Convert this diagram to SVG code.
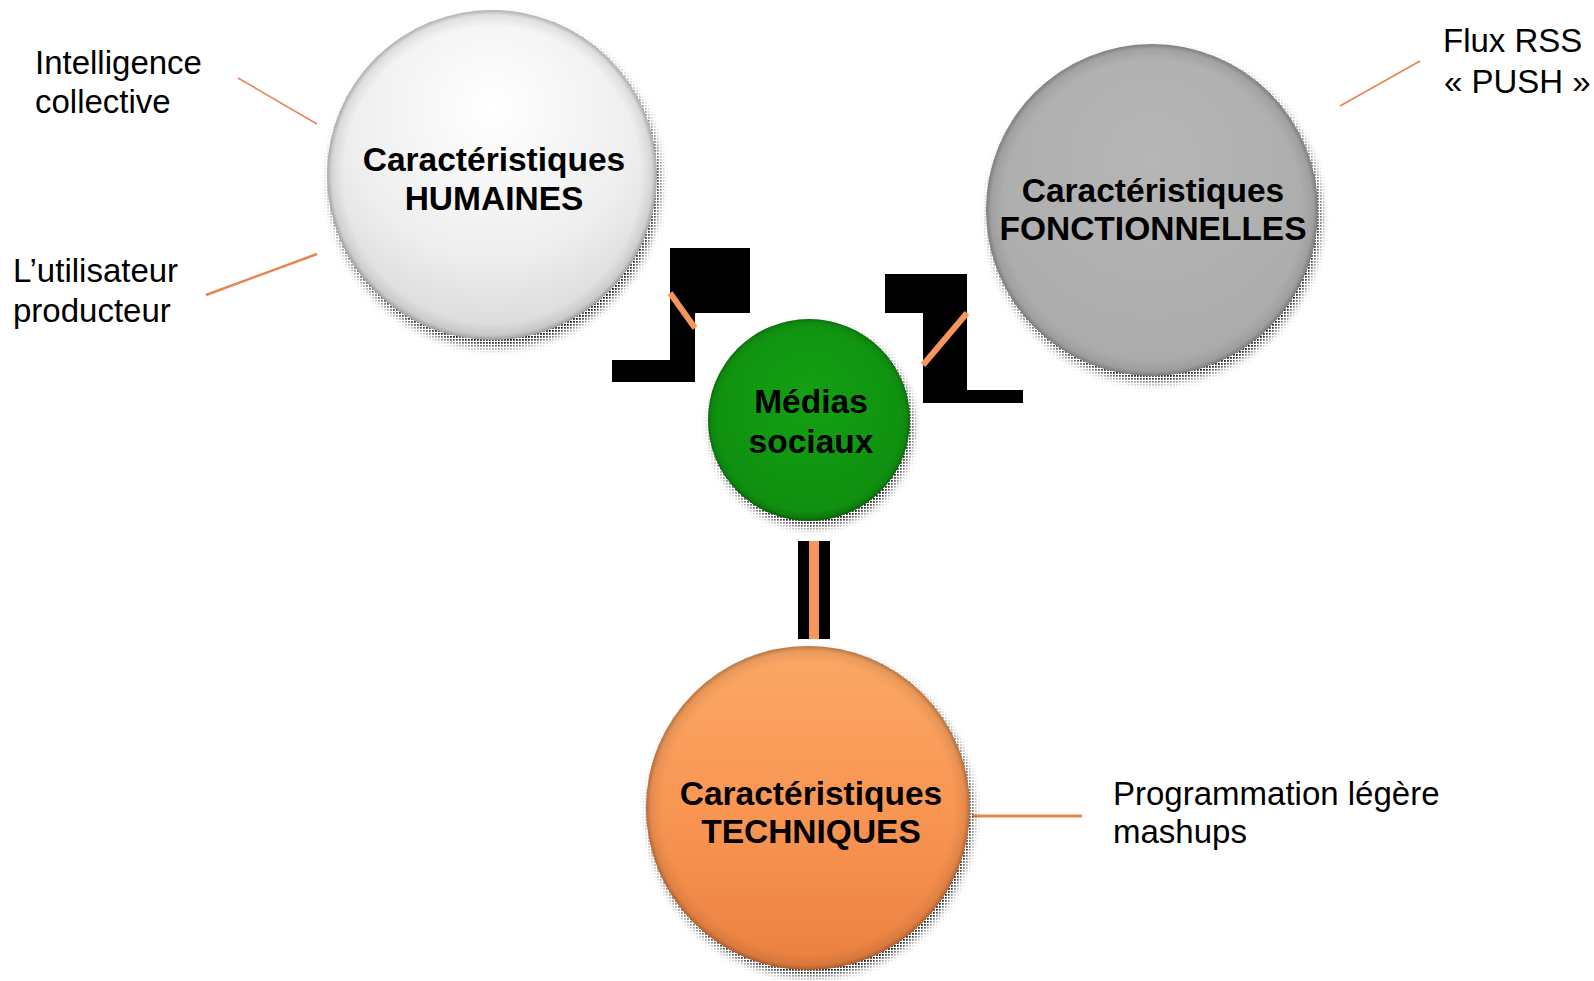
<svg xmlns="http://www.w3.org/2000/svg" width="1594" height="981" viewBox="0 0 1594 981">
<style>
.lbl{font-family:"Liberation Sans",Arial,sans-serif;font-size:33px;fill:#000}
.nt{font-family:"Liberation Sans",Arial,sans-serif;font-size:33.5px;font-weight:bold;fill:#000;text-anchor:middle}
.call{stroke:#E8844F;fill:none}
.blk{fill:#000}
.or{stroke:#F7965C;stroke-width:6;fill:none}
</style>
<defs>
<pattern id="dots" width="3" height="3" patternUnits="userSpaceOnUse">
<rect width="1.8" height="1.8" fill="#000"/>
</pattern>
<filter id="blur" x="-20%" y="-20%" width="140%" height="140%">
<feGaussianBlur stdDeviation="4"/>
</filter>
<radialGradient id="gH" cx="0.5" cy="0.3" r="0.75">
<stop offset="0" stop-color="#ffffff"/>
<stop offset="0.6" stop-color="#eeeeee"/>
<stop offset="1" stop-color="#d4d4d4"/>
</radialGradient>
<radialGradient id="gF" cx="0.5" cy="0.35" r="0.7">
<stop offset="0" stop-color="#b6b6b6"/>
<stop offset="1" stop-color="#aaaaaa"/>
</radialGradient>
<linearGradient id="gT" x1="0" y1="0" x2="0" y2="1">
<stop offset="0" stop-color="#fca865"/>
<stop offset="0.5" stop-color="#f99654"/>
<stop offset="1" stop-color="#ea8040"/>
</linearGradient>
<radialGradient id="gM" cx="0.5" cy="0.4" r="0.65">
<stop offset="0" stop-color="#14a014"/>
<stop offset="0.85" stop-color="#0f900f"/>
<stop offset="1" stop-color="#0a6a0a"/>
</radialGradient>
<radialGradient id="rim" cx="0.5" cy="0.5" r="0.5">
<stop offset="0.9" stop-color="#000" stop-opacity="0"/>
<stop offset="0.97" stop-color="#000" stop-opacity="0.08"/>
<stop offset="1" stop-color="#000" stop-opacity="0.28"/>
</radialGradient>
<mask id="mH"><circle cx="495" cy="182" r="165" fill="#fff" filter="url(#blur)"/></mask>
<mask id="mF"><circle cx="1155" cy="216" r="166" fill="#fff" filter="url(#blur)"/></mask>
<mask id="mT"><circle cx="811" cy="814" r="162" fill="#fff" filter="url(#blur)"/></mask>
<mask id="mM"><circle cx="812" cy="426" r="101" fill="#fff" filter="url(#blur)"/></mask>
</defs>
<rect width="1594" height="981" fill="#fff"/>

<g id="connectors">
<polygon class="blk" points="670,248 750,248 750,313 695,313 695,382 612,382 612,360 670,360"/>
<line class="or" x1="670" y1="293" x2="695" y2="328"/>
<polygon class="blk" points="885,274 967,274 967,390 1023,390 1023,403 923,403 923,313 885,313"/>
<line class="or" x1="967" y1="313" x2="923" y2="365"/>
<rect class="blk" x="798" y="541" width="32" height="98"/>
<rect x="809" y="541" width="10" height="98" fill="#F7965C"/>
<line class="call" stroke-width="1.5" x1="238" y1="78" x2="317" y2="124"/>
<line class="call" stroke-width="2.5" x1="206" y1="295" x2="317" y2="254"/>
<line class="call" stroke-width="1.5" x1="1340" y1="106" x2="1420" y2="61"/>
<line class="call" stroke-width="3" x1="972" y1="816" x2="1082" y2="816"/>
</g>

<g id="node-humaines">
<rect x="300" y="0" width="390" height="370" fill="url(#dots)" mask="url(#mH)"/>
<circle cx="492" cy="175" r="165" fill="url(#gH)"/>
<circle cx="492" cy="175" r="165" fill="url(#rim)"/>
<text class="nt" x="494" y="171">Caractéristiques</text>
<text class="nt" x="494" y="210">HUMAINES</text>
</g>

<g id="node-fonctionnelles">
<rect x="960" y="20" width="390" height="390" fill="url(#dots)" mask="url(#mF)"/>
<circle cx="1152" cy="210" r="166" fill="url(#gF)"/>
<circle cx="1152" cy="210" r="166" fill="url(#rim)"/>
<text class="nt" x="1153" y="202">Caractéristiques</text>
<text class="nt" x="1153" y="240">FONCTIONNELLES</text>
</g>

<g id="node-medias">
<rect x="690" y="300" width="250" height="240" fill="url(#dots)" mask="url(#mM)"/>
<circle cx="809" cy="420" r="101" fill="url(#gM)"/>
<circle cx="809" cy="420" r="101" fill="url(#rim)"/>
<text class="nt" x="811" y="413">Médias</text>
<text class="nt" x="811" y="453">sociaux</text>
</g>

<g id="node-techniques">
<rect x="620" y="630" width="380" height="351" fill="url(#dots)" mask="url(#mT)"/>
<circle cx="808" cy="808" r="162" fill="url(#gT)"/>
<circle cx="808" cy="808" r="162" fill="url(#rim)"/>
<text class="nt" x="811" y="805">Caractéristiques</text>
<text class="nt" x="811" y="843">TECHNIQUES</text>
</g>

<g id="labels">
<text class="lbl" x="35" y="74">Intelligence</text>
<text class="lbl" x="35" y="113">collective</text>
<text class="lbl" x="13" y="282">L’utilisateur</text>
<text class="lbl" x="13" y="322">producteur</text>
<text class="lbl" x="1443" y="52">Flux RSS</text>
<text class="lbl" x="1444" y="93">« PUSH »</text>
<text class="lbl" x="1113" y="805">Programmation légère</text>
<text class="lbl" x="1113" y="843">mashups</text>
</g>
</svg>
